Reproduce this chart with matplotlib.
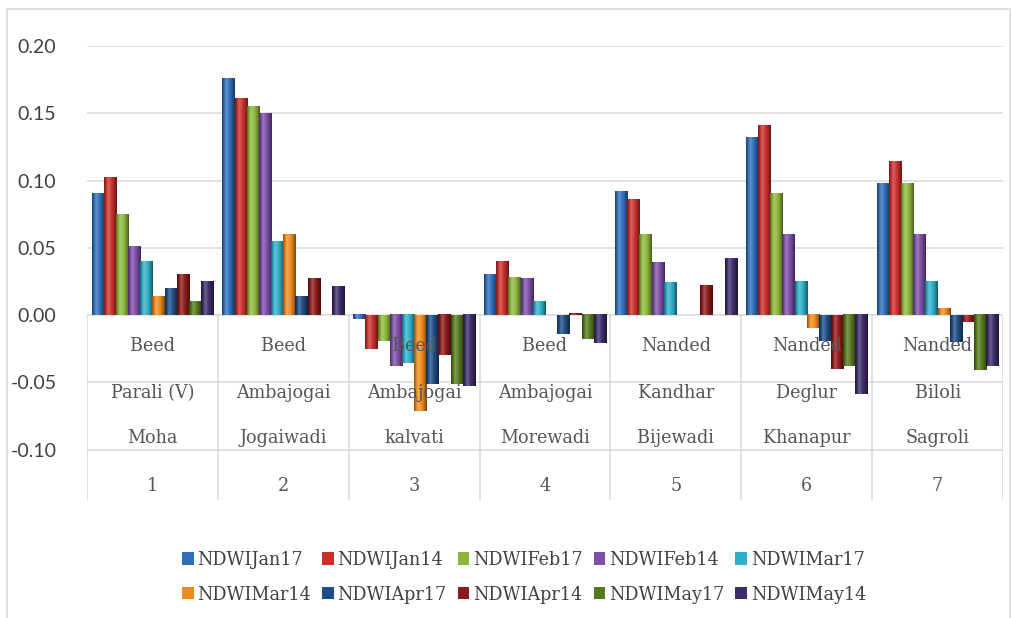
import matplotlib
matplotlib.use("Agg")
import matplotlib.pyplot as plt
import numpy as np
from matplotlib.colors import to_rgb
from matplotlib.patches import Rectangle

# ---------------- data ----------------
numbers = ["1", "2", "3", "4", "5", "6", "7"]
districts = ["Beed", "Beed", "Beed", "Beed", "Nanded", "Nanded", "Nanded"]
talukas = ["Parali (V)", "Ambajogai", "Ambajogai", "Ambajogai", "Kandhar", "Deglur", "Biloli"]
villages = ["Moha", "Jogaiwadi", "kalvati", "Morewadi", "Bijewadi", "Khanapur", "Sagroli"]

series_names = ["NDWIJan17", "NDWIJan14", "NDWIFeb17", "NDWIFeb14", "NDWIMar17",
                "NDWIMar14", "NDWIApr17", "NDWIApr14", "NDWIMay17", "NDWIMay14"]

ndwi_jan17 = [0.090, 0.176, -0.003, 0.030, 0.092, 0.132, 0.098]
ndwi_jan14 = [0.102, 0.161, -0.025, 0.040, 0.086, 0.141, 0.114]
ndwi_feb17 = [0.075, 0.155, -0.019, 0.028, 0.060, 0.090, 0.098]
ndwi_feb14 = [0.051, 0.150, -0.038, 0.027, 0.039, 0.060, 0.060]
ndwi_mar17 = [0.040, 0.055, -0.036, 0.010, 0.024, 0.025, 0.025]
ndwi_mar14 = [0.014, 0.060, -0.071, 0.000, 0.000, -0.010, 0.005]
ndwi_apr17 = [0.020, 0.014, -0.051, -0.014, 0.000, -0.019, -0.020]
ndwi_apr14 = [0.030, 0.027, -0.030, 0.001, 0.022, -0.040, -0.005]
ndwi_may17 = [0.010, 0.000, -0.051, -0.018, 0.000, -0.038, -0.041]
ndwi_may14 = [0.025, 0.021, -0.053, -0.021, 0.042, -0.059, -0.038]

series_values = [ndwi_jan17, ndwi_jan14, ndwi_feb17, ndwi_feb14, ndwi_mar17,
                 ndwi_mar14, ndwi_apr17, ndwi_apr14, ndwi_may17, ndwi_may14]

colors = ["#2F6EBA", "#C9302C", "#8DB73B", "#7D4FA8", "#2FAFC9",
          "#F08B1D", "#1F4E85", "#8E1B1B", "#557A1E", "#3E2C6B"]

yticks = [-0.10, -0.05, 0.00, 0.05, 0.10, 0.15, 0.20]
ytick_labels = ["-0.10", "-0.05", "0.00", "0.05", "0.10", "0.15", "0.20"]

# ---------------- figure ----------------
W, H = 1012, 618
fig = plt.figure(figsize=(W / 100, H / 100), dpi=100)
fig.patch.set_facecolor("white")

# outer chart border
fig.patches.append(Rectangle((7 / W, -0.02), (1010 - 7) / W, 1 - 9 / H + 0.02,
                             transform=fig.transFigure, fill=False,
                             edgecolor="#d9d9d9", linewidth=1.2, zorder=0))

ax = fig.add_axes([87 / W, 1 - 500 / H, (1003 - 87) / W, (500 - 46) / H])

x = np.arange(len(numbers))
n = len(series_values)
w = 0.093


def shade(c, f):
    r = np.array(to_rgb(c))
    if f >= 0:
        return r + (1 - r) * f
    return r * (1 + f)


grad_prof = np.array([-0.35, -0.1, 0.12, 0.22, 0.15, 0.05, -0.05, -0.15, -0.3, -0.45])

bars_for_legend = []
for j, (vals, col) in enumerate(zip(series_values, colors)):
    pos = x + (j - (n - 1) / 2) * w
    bars = ax.bar(pos, vals, width=w, color=col, edgecolor="none", zorder=3,
                  label=series_names[j])
    bars_for_legend.append(bars)
    # cylinder-like shading
    img = np.array([[shade(col, f) for f in grad_prof]])
    for b in bars:
        h = b.get_height()
        if abs(h) < 1e-9:
            continue
        x0 = b.get_x()
        y0 = b.get_y()
        ax.imshow(img, extent=(x0, x0 + b.get_width(), min(y0, y0 + h), max(y0, y0 + h)),
                  aspect="auto", zorder=3.5, interpolation="bilinear")

ax.set_xlim(-0.5, len(numbers) - 0.5)
ax.set_ylim(-0.1375, 0.20)

# grid and axes styling
ax.set_yticks(yticks)
ax.set_yticklabels(ytick_labels, fontsize=14, color="#404040", family="Lato")
ax.tick_params(axis="y", length=0, pad=22)
ax.set_xticks([])
ax.yaxis.grid(True, color="#d9d9d9", linewidth=1.1, zorder=0)
ax.set_axisbelow(True)
for s in ax.spines.values():
    s.set_visible(False)

# category separators (multi-level category table)
zero_frac = (0 - ax.get_ylim()[0]) / (ax.get_ylim()[1] - ax.get_ylim()[0])
for b in np.arange(len(numbers) + 1) - 0.5:
    ax.axvline(b, ymin=0, ymax=zero_frac, color="#d9d9d9", linewidth=1.1, zorder=1)

lab_font = dict(family="DejaVu Serif", fontstretch="condensed", fontsize=14,
                color="#555555", ha="center", va="center", zorder=5)
trans = ax.get_xaxis_transform()
for i in range(len(numbers)):
    ax.text(x[i], (500 - 346) / 454, districts[i], transform=trans, **lab_font)
    ax.text(x[i], (500 - 393) / 454, talukas[i], transform=trans, **lab_font)
    ax.text(x[i], (500 - 438) / 454, villages[i], transform=trans, **lab_font)
    ax.text(x[i], (500 - 486) / 454, numbers[i], transform=trans, **lab_font)

# legend (row-major order across 5 columns)
order = [0, 5, 1, 6, 2, 7, 3, 8, 4, 9]
handles = [bars_for_legend[k] for k in order]
labels = [series_names[k] for k in order]
leg = fig.legend(handles, labels, ncol=5, loc="center",
                 bbox_to_anchor=(524 / W, 1 - 577.5 / H), frameon=False,
                 prop=dict(family="DejaVu Serif", stretch="condensed", size=14),
                 handlelength=0.6, handleheight=0.6, handletextpad=0.2,
                 columnspacing=0.55, labelspacing=0.85)
for t in leg.get_texts():
    t.set_color("#404040")

fig.savefig("out.png", dpi=100, facecolor="white")
